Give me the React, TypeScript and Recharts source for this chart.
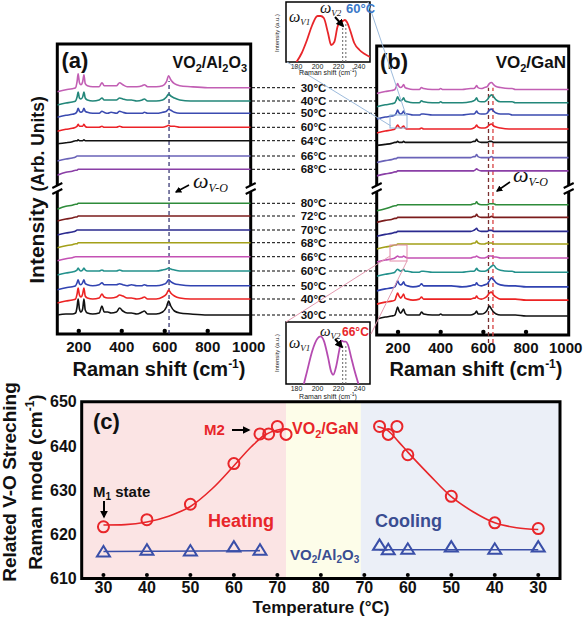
import React from 'react';
import {
  LineChart,
  ComposedChart,
  Line,
  Scatter,
  XAxis,
  YAxis,
  ReferenceArea,
  ReferenceLine,
  ReferenceDot,
} from 'recharts';

const FONT = "Arial, 'Liberation Sans', Helvetica, sans-serif";
const SERIF = "'Liberation Serif', 'Times New Roman', serif";

// ---------------- Panels (a) & (b): Raman spectra ----------------
const RAMAN_TICKS = [200, 400, 600, 800, 1000];

const COOL_TEMPS = ['30°C', '40°C', '50°C', '60°C', '64°C', '66°C', '68°C'];
const HEAT_TEMPS = ['80°C', '72°C', '70°C', '68°C', '66°C', '60°C', '50°C', '40°C', '30°C'];
const COOL_OFFSETS = [246.3, 233, 220.7, 206.7, 193.3, 178, 164.7];
const HEAT_OFFSETS = [130.7, 118, 104, 91.3, 77.3, 63, 48.3, 35, 19];
const COOL_COLORS = ['#c25fb4', '#23877a', '#3b4bb0', '#ec2227', '#111111', '#6a63b8', '#8a3fa6'];
const HEAT_COLORS = ['#2e8b3a', '#7b1c1c', '#2b2a8f', '#a3a019', '#c451b4', '#23918c', '#3143b1', '#ec2323', '#111111'];

// VO2/Al2O3 spectra (intensity above each baseline)
const A_X = [100, 140, 170, 185, 192, 197, 203, 210, 218, 224, 230, 240, 265, 295, 308, 318, 335, 350, 375, 390, 405, 425, 445, 470, 495, 505, 520, 560, 590, 608, 618, 628, 645, 670, 720, 800, 900, 1000];
const A_C30 = [-4, -2, -1, 0, 6, 14, 5, 3, 6, 13, 4, 2, 1, 1, 5, 2, 2, 2, 2, 5, 3, 1, 1, 1, 2, 3, 1, 1, 2, 6, 12, 8, 4, 2, 1, 0, 0, 0];
const A_C40 = [-4, -2, -1, 0, 4, 9, 3, 2, 4, 9, 3, 1, 0, 1, 3, 1, 1, 1, 1, 3, 2, 1, 1, 0, 1, 2, 0, 0, 1, 4, 7, 5, 3, 1, 0, 0, 0, 0];
const A_C50 = [-4, -2, -1, 0, 2, 5, 2, 1, 2, 5, 2, 1, 0, 0, 2, 1, 0, 1, 0, 2, 1, 0, 0, 0, 0, 1, 0, 0, 1, 2, 4, 3, 1, 0, 0, 0, 0, 0];
const A_C60 = [-4, -2, -1, 0, 1, 3, 1, 1, 1, 3, 1, 0, 0, 0, 1, 0, 0, 0, 0, 1, 0, 0, 0, 0, 0, 0, 0, 0, 0, 1, 2, 1, 1, 0, 0, 0, 0, 0];
const A_C64 = [-3, -2, -1, 0, 0, 1, 0, 0, 0, 1, 0, 0, 0, 0, 0, 0, 0, 0, 0, 0, 0, 0, 0, 0, 0, 0, 0, 0, 0, 0, 0, 0, 0, 0, 0, 0, 0, 0];
const A_C66 = [-5, -3, -2, -1, 0, 0, 0, 0, 0, 0, 0, 0, 0, 0, 0, 0, 0, 0, 0, 0, 0, 0, 0, 0, 0, 0, 0, 0, 0, 0, 0, 0, 0, 0, 0, 0, 0, 0];
const A_C68 = [-6, -3, -2, -1, -1, 0, 0, 0, 0, 0, 0, 0, 0, 0, 0, 0, 0, 0, 0, 0, 0, 0, 0, 0, 0, 0, 0, 0, 0, 0, 0, 0, 0, 0, 0, 0, 0, 0];
const A_H80 = [-6, -3, -2, -1, -1, 0, 0, 0, 0, 0, 0, 0, 0, 0, 0, 0, 0, 0, 0, 0, 0, 0, 0, 0, 0, 0, 0, 0, 0, 0, 0, 0, 0, 0, 0, 0, 0, 0];
const A_H72 = [-5, -3, -2, -1, -1, 0, 0, 0, 0, 0, 0, 0, 0, 0, 0, 0, 0, 0, 0, 0, 0, 0, 0, 0, 0, 0, 0, 0, 0, 0, 0, 0, 0, 0, 0, 0, 0, 0];
const A_H70 = [-5, -3, -2, -1, 0, 0, 0, 0, 0, 0, 0, 0, 0, 0, 0, 0, 0, 0, 0, 0, 0, 0, 0, 0, 0, 0, 0, 0, 0, 0, 0, 0, 0, 0, 0, 0, 0, 0];
const A_H68 = [-5, -3, -2, -1, -1, 0, 0, 0, 0, 0, 0, 0, 0, 0, 0, 0, 0, 0, 0, 0, 0, 0, 0, 0, 0, 0, 0, 0, 0, 0, 0, 0, 0, 0, 0, 0, 0, 0];
const A_H66 = [-4, -2, -1, 0, 0, 0, 0, 0, 0, 0, 0, 0, 0, 0, 0, 0, 0, 0, 0, 0, 0, 0, 0, 0, 0, 0, 0, 0, 0, 0, 0, 0, 0, 0, 0, 0, 0, 0];
const A_H60 = [-4, -2, -1, 0, 1, 3, 1, 0, 1, 3, 1, 0, 0, 0, 1, 0, 0, 0, 0, 1, 0, 0, 0, 0, 0, 0, 0, 0, 1, 2, 3, 2, 1, 0, 0, 0, 0, 0];
const A_H50 = [-4, -2, -1, 0, 3, 6, 2, 1, 3, 6, 2, 1, 0, 1, 3, 1, 1, 1, 1, 2, 1, 0, 1, 0, 0, 1, 0, 0, 1, 3, 6, 4, 2, 1, 0, 0, 0, 0];
const A_H40 = [-4, -2, -1, 0, 5, 11, 4, 2, 5, 11, 3, 1, 0, 1, 5, 2, 1, 1, 2, 4, 3, 1, 1, 0, 1, 2, 0, 0, 2, 5, 9, 6, 3, 1, 0, 0, 0, 0];
const A_H30 = [0, 1, 1, 2, 8, 16, 6, 3, 6, 16, 5, 2, 1, 2, 9, 3, 3, 2, 3, 7, 4, 2, 2, 1, 3, 4, 1, 1, 3, 8, 14, 9, 4, 2, 1, 0, 0, 0];
const A_COOL = [A_C30, A_C40, A_C50, A_C60, A_C64, A_C66, A_C68];
const A_HEAT = [A_H80, A_H72, A_H70, A_H68, A_H66, A_H60, A_H50, A_H40, A_H30];

// VO2/GaN spectra
const B_X = [100, 140, 170, 185, 192, 198, 205, 212, 220, 226, 233, 245, 270, 300, 310, 320, 360, 390, 400, 410, 450, 500, 540, 555, 562, 568, 575, 590, 605, 618, 628, 638, 648, 660, 680, 720, 735, 750, 800, 850, 900, 1000];
const B_C30 = [-4, -2, -1, 0, 3, 6, 3, 2, 3, 5, 2, 1, 0, 0, 2, 1, 0, 0, 1, 0, 0, 0, 1, 1, 2, 4, 2, 1, 2, 3, 6, 7, 5, 3, 2, 1, 1, 0, 0, 0, 0, 0];
const B_C40 = [-4, -2, -1, 0, 3, 6, 3, 2, 3, 5, 2, 1, 0, 0, 2, 1, 0, 0, 1, 0, 0, 0, 1, 2, 3, 5, 2, 1, 1, 3, 6, 8, 6, 3, 1, 1, 1, 0, 0, 0, 0, 0];
const B_C50 = [-4, -2, -1, 0, 2, 5, 2, 1, 2, 4, 1, 1, 0, 0, 1, 1, 0, 0, 0, 0, 0, 0, 1, 1, 2, 4, 2, 1, 1, 2, 5, 6, 4, 2, 1, 1, 0, 0, 0, 0, 0, 0];
const B_C60 = [-4, -2, -1, 0, 2, 4, 2, 1, 2, 3, 1, 0, 0, 0, 1, 0, 0, 0, 0, 0, 0, 0, 0, 1, 2, 4, 2, 1, 1, 2, 4, 5, 3, 2, 1, 0, 0, 0, 0, 0, 0, 0];
const B_C64 = [-3, -2, -1, 0, 0, 1, 0, 0, 0, 1, 0, 0, 0, 0, 0, 0, 0, 0, 0, 0, 0, 0, 0, 1, 1, 3, 1, 0, 0, 0, 1, 1, 0, 0, 0, 0, 0, 0, 0, 0, 0, 0];
const B_C66 = [-5, -3, -2, -1, -1, 0, 0, 0, 0, 0, 0, 0, 0, 0, 0, 0, 0, 0, 0, 0, 0, 0, 0, 1, 1, 3, 1, 0, 0, 0, 0, 1, 0, 0, 0, 0, 0, 0, 0, 0, 0, 0];
const B_C68 = [-5, -3, -2, -1, -1, 0, 0, 0, 0, 0, 0, 0, 0, 0, 0, 0, 0, 0, 0, 0, 0, 0, 0, 0, 1, 2, 1, 0, 0, 0, 0, 0, 0, 0, 0, 0, 0, 0, 0, 0, 0, 0];
const B_H80 = [-6, -4, -2, -1, -1, 0, 0, 0, 0, 0, 0, 0, 0, 0, 0, 0, 0, 0, 0, 0, 0, 0, 0, 1, 1, 3, 1, 0, 0, 0, 1, 1, 1, 0, 0, 0, 0, 0, 0, 0, 0, 0];
const B_H72 = [-5, -3, -2, -1, -1, 0, 0, 0, 0, 0, 0, 0, 0, 0, 0, 0, 0, 0, 0, 0, 0, 0, 0, 1, 1, 3, 1, 0, 0, 0, 0, 1, 0, 0, 0, 0, 0, 0, 0, 0, 0, 0];
const B_H70 = [-5, -3, -2, -1, -1, 0, 0, 0, 0, 0, 0, 0, 0, 0, 0, 0, 0, 0, 0, 0, 0, 0, 0, 1, 2, 3, 1, 0, 0, 0, 1, 1, 0, 0, 0, 0, 0, 0, 0, 0, 0, 0];
const B_H68 = [-5, -3, -2, -1, -1, 0, 0, 0, 0, 0, 0, 0, 0, 0, 0, 0, 0, 0, 0, 0, 0, 0, 0, 1, 1, 3, 1, 0, 0, 1, 1, 1, 0, 0, 0, 0, 0, 0, 0, 0, 0, 0];
const B_H66 = [-4, -2, -1, 0, 1, 2, 1, 1, 1, 2, 1, 0, 0, 0, 0, 0, 0, 0, 0, 0, 0, 0, 0, 1, 1, 2, 1, 0, 0, 1, 2, 2, 1, 1, 0, 0, 0, 0, 0, 0, 0, 0];
const B_H60 = [-4, -2, -1, 0, 2, 3, 2, 1, 2, 3, 1, 1, 0, 0, 1, 1, 0, 0, 0, 0, 0, 0, 1, 1, 2, 4, 2, 1, 1, 2, 4, 6, 7, 4, 2, 1, 1, 0, 0, 0, 0, 0];
const B_H50 = [-4, -2, -1, 0, 3, 6, 3, 2, 3, 5, 2, 1, 0, 1, 3, 1, 1, 1, 1, 1, 1, 0, 1, 2, 2, 4, 2, 1, 2, 3, 6, 9, 7, 4, 2, 1, 1, 1, 0, 0, 0, 0];
const B_H40 = [-4, -2, -1, 0, 4, 7, 4, 2, 4, 6, 2, 1, 0, 1, 3, 1, 1, 1, 1, 1, 1, 1, 1, 2, 2, 4, 2, 1, 2, 4, 7, 8, 5, 3, 1, 1, 1, 1, 0, 0, 0, 0];
const B_H30 = [-3, -1, 0, 1, 5, 9, 5, 3, 5, 7, 3, 1, 1, 1, 4, 2, 1, 1, 2, 1, 1, 1, 1, 2, 3, 5, 2, 2, 3, 6, 10, 7, 4, 2, 1, 1, 1, 1, 0, 0, 0, 0];
const B_COOL = [B_C30, B_C40, B_C50, B_C60, B_C64, B_C66, B_C68];
const B_HEAT = [B_H80, B_H72, B_H70, B_H68, B_H66, B_H60, B_H50, B_H40, B_H30];

// Insets (zoom of the omega_V1 / omega_V2 region)
const INSET_TICKS = [180, 200, 220, 240];
const TOP_INSET_X = [180, 185, 190, 195, 200, 203, 206, 210, 213, 216, 219, 222, 224, 226, 228, 231, 235, 240, 245, 250];
const TOP_INSET_Y = [0, 9, 22, 37, 46, 46, 44, 29, 17, 20, 35, 41, 41, 42, 40, 32, 19, 12, 8, 5];
const BOT_INSET_X = [187, 190, 195, 200, 203, 206, 210, 213, 215, 218, 221, 223, 225, 227, 229, 232, 235, 239];
const BOT_INSET_Y = [0, 12, 32, 44, 46, 42, 26, 12, 9, 18, 34, 42, 41, 41, 38, 26, 14, 0];

// ---------------- Panel (c) ----------------
const C_TICKS = [30, 40, 50, 60, 70, 80, 90, 100, 110, 120, 130];
const C_TICK_LABELS = ['30', '40', '50', '60', '70', '80', '70', '60', '50', '40', '30'];
const Y_TICKS = [610, 620, 630, 640, 650];

const HEAT_T = [30, 40, 50, 60, 66, 68, 70, 72];
const GAN_HEAT = [621.7, 623.3, 626.8, 636.0, 642.7, 642.7, 644.4, 642.6];
const COOL_T = [66.5, 64.5, 62.5, 60, 50, 40, 30];
const GAN_COOL = [644.4, 642.6, 644.4, 638.0, 628.6, 622.6, 621.3];
const ALO_HEAT_T = [30, 40, 50, 60, 66];
const ALO_HEAT = [616.0, 616.4, 616.2, 617.1, 616.4];
const ALO_COOL_T = [66.5, 64.5, 60, 50, 40, 30];
const ALO_COOL = [617.5, 616.5, 616.6, 617.1, 616.6, 617.1];
const FIT_HEAT_T = [30, 35, 40, 45, 50, 55, 60, 64, 67, 70, 72];
const FIT_HEAT = [622.1, 622.2, 622.8, 624.1, 626.3, 630.3, 635.5, 639.8, 642.4, 643.6, 643.8];
const FIT_COOL_T = [67, 64.5, 62, 60, 55, 50, 45, 40, 35, 30];
const FIT_COOL = [644.4, 643.4, 640.8, 638.6, 633.4, 628.5, 625.1, 622.6, 621.5, 621.1];
const ALO_FIT_HEAT_T = [30, 66];
const ALO_FIT_HEAT = [616.1, 616.3];
const ALO_FIT_COOL_T = [66.5, 30];
const ALO_FIT_COOL = [616.5, 616.5];

// helpers
const mk = (xs: number[], vals: number[], off = 0) => xs.map((x, i) => ({ x, y: off + vals[i] }));
const heatPos = (t: number) => t; // heating runs left -> right
const coolPos = (t: number) => 160 - t; // cooling runs back, mirrored axis
const pts = (ts: number[], vals: number[], f: (t: number) => number) => ts.map((t, i) => ({ x: f(t), y: vals[i] }));

const makeRamanTick = (lastShift: number) => (p: any) => {
  const v = p.payload.value;
  const dx = v === 1000 ? lastShift : 0;
  return (
    <text x={p.x + dx} y={p.y} dy="0.71em" textAnchor="middle" fontSize={15} fontWeight="bold" fill="#111" fontFamily={FONT}>
      {v}
    </text>
  );
};
const RamanTickA = makeRamanTick(-2);
const RamanTickB = makeRamanTick(-3);

const RedCircle = (p: any) => (
  <circle cx={p.cx} cy={p.cy} r={5.5} fill="none" stroke="#e8262a" strokeWidth={2} />
);
const BlueTri = (p: any) => (
  <polygon
    points={`${p.cx},${p.cy - 6} ${p.cx - 6.5},${p.cy + 4.5} ${p.cx + 6.5},${p.cy + 4.5}`}
    fill="none"
    stroke="#3a4fa8"
    strokeWidth={2}
  />
);
const TempLabel = (p: any) => (
  <text x={p.cx} y={p.cy} dy="0.36em" textAnchor="middle" fontSize={11.5} fontWeight="bold" fill="#111" fontFamily={FONT}>
    {p.payload.label}
  </text>
);

function renderSpectra(xs: number[], cool: number[][], heat: number[][], key: string) {
  const out: any[] = [];
  cool.forEach((v, i) =>
    out.push(
      <Line
        key={`${key}c${i}`}
        data={mk(xs, v, COOL_OFFSETS[i])}
        dataKey="y"
        type="monotone"
        stroke={COOL_COLORS[i]}
        strokeWidth={1.6}
        dot={false}
        isAnimationActive={false}
      />
    )
  );
  heat.forEach((v, i) =>
    out.push(
      <Line
        key={`${key}h${i}`}
        data={mk(xs, v, HEAT_OFFSETS[i])}
        dataKey="y"
        type="monotone"
        stroke={HEAT_COLORS[i]}
        strokeWidth={1.6}
        dot={false}
        isAnimationActive={false}
      />
    )
  );
  return out;
}

const Arrow = ({ x1, y1, x2, y2, w = 1.6 }: any) => (
  <line x1={x1} y1={y1} x2={x2} y2={y2} stroke="#000" strokeWidth={w} markerEnd="url(#ah)" />
);

const BreakMark = ({ x, y }: { x: number; y: number }) => (
  <g>
    <rect x={x - 3} y={y - 3} width={6} height={6} fill="#fff" />
    <line x1={x - 5} y1={y - 1} x2={x + 5} y2={y - 6} stroke="#000" strokeWidth={2} />
    <line x1={x - 5} y1={y + 5} x2={x + 5} y2={y} stroke="#000" strokeWidth={2} />
  </g>
);

export default function App() {
  const allOffsets = [...COOL_OFFSETS, ...HEAT_OFFSETS];
  const labelData = [
    ...COOL_TEMPS.map((label, i) => ({ x: 62.5, y: COOL_OFFSETS[i], label })),
    ...HEAT_TEMPS.map((label, i) => ({ x: 62.5, y: HEAT_OFFSETS[i], label })),
  ];

  return (
    <div style={{ position: 'absolute', left: 0, top: 0, width: 585, height: 618, background: '#fff', fontFamily: FONT, overflow: 'hidden' }}>
      {/* Panel (a) */}
      <div style={{ position: 'absolute', left: 0, top: 0 }}>
        <LineChart width={275} height={380} margin={{ top: 44, right: 24.3, bottom: 16, left: 57.3 }}>
          <XAxis
            type="number"
            dataKey="x"
            domain={[100, 1000]}
            ticks={RAMAN_TICKS}
            allowDataOverflow
            height={30}
            tickLine={false}
            axisLine={false}
            tickSize={0}
            tickMargin={7}
            tick={RamanTickA}
          />
          <YAxis type="number" domain={[0, 290]} hide allowDataOverflow />
          <ReferenceLine segment={[{ x: 620, y: 0 }, { x: 620, y: 253 }]} stroke="#2b2b6b" strokeDasharray="4 3" strokeWidth={1.2} ifOverflow="visible" />
          {renderSpectra(A_X, A_COOL, A_HEAT, 'a')}
          {RAMAN_TICKS.slice(0, 4).map((t) => (
            <ReferenceDot key={`ad${t}`} x={t} y={3} r={2.2} fill="#000" stroke="none" />
          ))}
          <ReferenceArea x1={100} x2={1000} y1={0} y2={290} fill="none" stroke="#000" strokeWidth={3} />
        </LineChart>
      </div>

      {/* temperature labels between panels */}
      <div style={{ position: 'absolute', left: 250.7, top: 0 }}>
        <ComposedChart width={126} height={380} margin={{ top: 44, right: 0, bottom: 16, left: 0 }}>
          <XAxis type="number" dataKey="x" domain={[0, 126]} height={30} tick={false} axisLine={false} tickLine={false} />
          <YAxis type="number" dataKey="y" domain={[0, 290]} hide />
          {allOffsets.map((o, i) => (
            <ReferenceLine key={`l${i}`} segment={[{ x: 1, y: o }, { x: 46, y: o }]} stroke="#000" strokeDasharray="3 2" strokeWidth={1} />
          ))}
          {allOffsets.map((o, i) => (
            <ReferenceLine key={`r${i}`} segment={[{ x: 78, y: o }, { x: 125, y: o }]} stroke="#000" strokeDasharray="3 2" strokeWidth={1} />
          ))}
          <Scatter data={labelData} shape={TempLabel} isAnimationActive={false} />
        </ComposedChart>
      </div>

      {/* Panel (b) */}
      <div style={{ position: 'absolute', left: 367, top: 0 }}>
        <LineChart width={218} height={380} margin={{ top: 46, right: 16.3, bottom: 15, left: 9.7 }}>
          <XAxis
            type="number"
            dataKey="x"
            domain={[100, 1000]}
            ticks={RAMAN_TICKS}
            allowDataOverflow
            height={30}
            tickLine={false}
            axisLine={false}
            tickSize={0}
            tickMargin={7}
            tick={RamanTickB}
          />
          <YAxis type="number" domain={[0, 290]} hide allowDataOverflow />
          <ReferenceLine segment={[{ x: 624, y: -8 }, { x: 624, y: 248 }]} stroke="#7a3030" strokeDasharray="4 3" strokeWidth={1.3} ifOverflow="visible" />
          <ReferenceLine segment={[{ x: 645, y: -8 }, { x: 645, y: 248 }]} stroke="#d84040" strokeDasharray="4 3" strokeWidth={1.3} ifOverflow="visible" />
          {renderSpectra(B_X, B_COOL, B_HEAT, 'b')}
          {RAMAN_TICKS.slice(0, 4).map((t) => (
            <ReferenceDot key={`bd${t}`} x={t} y={3} r={2.2} fill="#000" stroke="none" />
          ))}
          <ReferenceArea x1={100} x2={1000} y1={0} y2={290} fill="none" stroke="#000" strokeWidth={3} />
        </LineChart>
      </div>

      {/* Top inset */}
      <div style={{ position: 'absolute', left: 276, top: 0 }}>
        <LineChart width={100} height={80} margin={{ top: 2, right: 6, bottom: 0, left: 10 }}>
          <XAxis type="number" dataKey="x" domain={[170, 250]} ticks={INSET_TICKS} height={18} tick={{ fontSize: 7, fill: '#222', fontFamily: FONT }} tickLine={false} axisLine={false} tickSize={0} tickMargin={2} allowDataOverflow />
          <YAxis type="number" domain={[0, 60]} hide allowDataOverflow />
          <ReferenceLine segment={[{ x: 224, y: 0 }, { x: 224, y: 38 }]} stroke="#666" strokeDasharray="2 2" />
          <ReferenceLine segment={[{ x: 227, y: 0 }, { x: 227, y: 38 }]} stroke="#666" strokeDasharray="2 2" />
          <Line data={mk(TOP_INSET_X, TOP_INSET_Y)} dataKey="y" type="monotone" stroke="#e8262a" strokeWidth={1.8} dot={false} isAnimationActive={false} />
          <ReferenceArea x1={170} x2={250} y1={0} y2={60} fill="none" stroke="#000" strokeWidth={1.5} />
        </LineChart>
      </div>

      {/* Bottom inset */}
      <div style={{ position: 'absolute', left: 276, top: 320 }}>
        <LineChart width={100} height={84} margin={{ top: 2, right: 6, bottom: 0, left: 10 }}>
          <XAxis type="number" dataKey="x" domain={[170, 250]} ticks={INSET_TICKS} height={20} tick={{ fontSize: 7, fill: '#222', fontFamily: FONT }} tickLine={false} axisLine={false} tickSize={0} tickMargin={2} allowDataOverflow />
          <YAxis type="number" domain={[0, 60]} hide allowDataOverflow />
          <ReferenceLine segment={[{ x: 224, y: 0 }, { x: 224, y: 38 }]} stroke="#666" strokeDasharray="2 2" />
          <ReferenceLine segment={[{ x: 227, y: 0 }, { x: 227, y: 38 }]} stroke="#666" strokeDasharray="2 2" />
          <Line data={mk(BOT_INSET_X, BOT_INSET_Y)} dataKey="y" type="monotone" stroke="#b54bb0" strokeWidth={1.8} dot={false} isAnimationActive={false} />
          <ReferenceArea x1={170} x2={250} y1={0} y2={60} fill="none" stroke="#000" strokeWidth={1.5} />
        </LineChart>
      </div>

      {/* Panel (c) */}
      <div style={{ position: 'absolute', left: 0, top: 380 }}>
        <ComposedChart width={585} height={238} margin={{ top: 21.7, right: 25, bottom: 15.5, left: 21.7 }}>
          <ReferenceArea x1={25} x2={72} y1={610} y2={650} fill="#fbe4e4" fillOpacity={1} stroke="none" />
          <ReferenceArea x1={72} x2={89.2} y1={610} y2={650} fill="#fdfde9" fillOpacity={1} stroke="none" />
          <ReferenceArea x1={89.2} x2={135} y1={610} y2={650} fill="#ebeff7" fillOpacity={1} stroke="none" />
          <XAxis
            type="number"
            dataKey="x"
            domain={[25, 135]}
            ticks={C_TICKS}
            tickFormatter={(v: number) => C_TICK_LABELS[C_TICKS.indexOf(v)]}
            height={24}
            tickLine={false}
            axisLine={false}
            tickSize={0}
            tickMargin={3}
            tick={{ fontSize: 16, fontWeight: 'bold', fill: '#111', fontFamily: FONT }}
            allowDataOverflow
          />
          <YAxis
            type="number"
            dataKey="y"
            domain={[610, 650]}
            ticks={Y_TICKS}
            width={60}
            tickLine={false}
            axisLine={false}
            tickSize={0}
            tickMargin={5}
            tick={{ fontSize: 16, fontWeight: 'bold', fill: '#111', fontFamily: FONT }}
            allowDataOverflow
          />
          <Line data={pts(FIT_HEAT_T, FIT_HEAT, heatPos)} dataKey="y" type="monotone" stroke="#e8262a" strokeWidth={1.6} dot={false} isAnimationActive={false} />
          <Line data={pts(FIT_COOL_T, FIT_COOL, coolPos)} dataKey="y" type="monotone" stroke="#e8262a" strokeWidth={1.6} dot={false} isAnimationActive={false} />
          <Line data={pts(ALO_FIT_HEAT_T, ALO_FIT_HEAT, heatPos)} dataKey="y" type="linear" stroke="#3a4fa8" strokeWidth={1.6} dot={false} isAnimationActive={false} />
          <Line data={pts(ALO_FIT_COOL_T, ALO_FIT_COOL, coolPos)} dataKey="y" type="linear" stroke="#3a4fa8" strokeWidth={1.6} dot={false} isAnimationActive={false} />
          <Scatter data={pts(HEAT_T, GAN_HEAT, heatPos)} shape={RedCircle} isAnimationActive={false} />
          <Scatter data={pts(COOL_T, GAN_COOL, coolPos)} shape={RedCircle} isAnimationActive={false} />
          <Scatter data={pts(ALO_HEAT_T, ALO_HEAT, heatPos)} shape={BlueTri} isAnimationActive={false} />
          <Scatter data={pts(ALO_COOL_T, ALO_COOL, coolPos)} shape={BlueTri} isAnimationActive={false} />
          {C_TICKS.map((t) => (
            <ReferenceDot key={`cd${t}`} x={t} y={610.8} r={2} fill="#000" stroke="none" />
          ))}
          <ReferenceArea x1={25} x2={135} y1={610} y2={650} fill="none" stroke="#000" strokeWidth={3} />
        </ComposedChart>
      </div>

      {/* Annotation overlay */}
      <svg width={585} height={618} style={{ position: 'absolute', left: 0, top: 0, pointerEvents: 'none' }} fontFamily={FONT}>
        <defs>
          <marker id="ah" viewBox="0 0 10 10" refX="8" refY="5" markerWidth="4" markerHeight="4" orient="auto">
            <path d="M0,0 L10,5 L0,10 z" fill="#000" />
          </marker>
        </defs>

        {/* y label (a)/(b) */}
        <text transform="translate(44,190) rotate(-90)" textAnchor="middle" fontWeight="bold" fill="#111">
          <tspan fontSize={21}>Intensity </tspan>
          <tspan fontSize={17.5}>(Arb. Units)</tspan>
        </text>

        {/* titles */}
        <text x={61.5} y={68} fontSize={22} fontWeight="bold" fill="#111">(a)</text>
        <text x={247} y={68} fontSize={16} fontWeight="bold" fill="#111" textAnchor="end">
          VO<tspan fontSize={11} dy={4}>2</tspan>
          <tspan dy={-4}>/Al</tspan>
          <tspan fontSize={11} dy={4}>2</tspan>
          <tspan dy={-4}>O</tspan>
          <tspan fontSize={11} dy={4}>3</tspan>
        </text>
        <text x={380} y={69} fontSize={22} fontWeight="bold" fill="#111">(b)</text>
        <text x={566} y={68} fontSize={17} fontWeight="bold" fill="#111" textAnchor="end">
          VO<tspan fontSize={11} dy={4}>2</tspan>
          <tspan dy={-4}>/GaN</tspan>
        </text>

        {/* x labels */}
        <text x={159} y={376} fontSize={20} fontWeight="bold" fill="#111" textAnchor="middle">
          Raman shift (cm<tspan fontSize={12} dy={-8}>-1</tspan>
          <tspan dy={8}>)</tspan>
        </text>
        <text x={476} y={376} fontSize={20} fontWeight="bold" fill="#111" textAnchor="middle">
          Raman shift (cm<tspan fontSize={12} dy={-8}>-1</tspan>
          <tspan dy={8}>)</tspan>
        </text>

        {/* omega V-O */}
        <text x={193} y={188} fontFamily={SERIF} fontStyle="italic" fill="#111">
          <tspan fontSize={22}>ω</tspan>
          <tspan fontSize={12} dy={4}>V-O</tspan>
        </text>
        <Arrow x1={189} y1={185} x2={176} y2={192} />
        <text x={513} y={182} fontFamily={SERIF} fontStyle="italic" fill="#111">
          <tspan fontSize={22}>ω</tspan>
          <tspan fontSize={12} dy={4}>V-O</tspan>
        </text>
        <Arrow x1={510} y1={182} x2={497} y2={191} />

        {/* axis breaks */}
        <BreakMark x={57.3} y={189} />
        <BreakMark x={250.7} y={189} />
        <BreakMark x={376.7} y={189} />
        <BreakMark x={568.7} y={189} />

        {/* zoom boxes and connectors */}
        <rect x={390} y={115} width={17} height={13} fill="none" stroke="#8fb2da" strokeWidth={1} />
        <line x1={368} y1={2} x2={406} y2={115} stroke="#9dbbdc" strokeWidth={1} />
        <line x1={287} y1={62} x2={391} y2={126} stroke="#9dbbdc" strokeWidth={1} />
        <rect x={390} y={245} width={17} height={16} fill="none" stroke="#e28aa8" strokeWidth={1} />
        <line x1={390} y1={256} x2={286} y2={322} stroke="#e49ab0" strokeWidth={1} />
        <line x1={407} y1={261} x2={371} y2={334} stroke="#e49ab0" strokeWidth={1} />

        {/* top inset texts */}
        <text transform="translate(279,33) rotate(-90)" textAnchor="middle" fontSize={6} fill="#222">Intensity (a.u.)</text>
        <text x={328} y={75} textAnchor="middle" fontSize={7} fill="#222">
          Raman shift (cm<tspan fontSize={5} dy={-3}>-1</tspan>
          <tspan dy={3}>)</tspan>
        </text>
        <text x={289} y={22} fontFamily={SERIF} fontStyle="italic" fill="#111">
          <tspan fontSize={16}>ω</tspan>
          <tspan fontSize={9} dy={3}>V1</tspan>
        </text>
        <text x={320} y={13} fontFamily={SERIF} fontStyle="italic" fill="#111">
          <tspan fontSize={16}>ω</tspan>
          <tspan fontSize={9} dy={3}>V2</tspan>
        </text>
        <text x={346} y={13} fontSize={13} fontWeight="bold" fill="#3a78c8">60°C</text>
        <Arrow x1={335} y1={17} x2={343} y2={26} w={2} />

        {/* bottom inset texts */}
        <text transform="translate(279,353) rotate(-90)" textAnchor="middle" fontSize={6} fill="#222">Intensity (a.u.)</text>
        <text x={328} y={399} textAnchor="middle" fontSize={7} fill="#222">
          Raman shift (cm<tspan fontSize={5} dy={-3}>-1</tspan>
          <tspan dy={3}>)</tspan>
        </text>
        <text x={289} y={348} fontFamily={SERIF} fontStyle="italic" fill="#111">
          <tspan fontSize={16}>ω</tspan>
          <tspan fontSize={9} dy={3}>V1</tspan>
        </text>
        <text x={320} y={336} fontFamily={SERIF} fontStyle="italic" fill="#111">
          <tspan fontSize={15}>ω</tspan>
          <tspan fontSize={9} dy={3}>V2</tspan>
        </text>
        <text x={342} y={336} fontSize={12} fontWeight="bold" fill="#e8262a">66°C</text>
        <Arrow x1={335} y1={339} x2={342} y2={347} w={2} />

        {/* panel (c) texts */}
        <text x={93} y={429} fontSize={22} fontWeight="bold" fill="#111">(c)</text>
        <text x={93} y={497} fontSize={15} fontWeight="bold" fill="#111">
          M<tspan fontSize={10} dy={3}>1</tspan>
          <tspan dy={-3}> state</tspan>
        </text>
        <Arrow x1={104} y1={501} x2={104} y2={517} w={2} />
        <text x={204} y={435} fontSize={15} fontWeight="bold" fill="#e8262a">M2</text>
        <Arrow x1={232} y1={430} x2={249} y2={430} w={2} />
        <text x={292} y={434} fontSize={16} fontWeight="bold" fill="#e8262a">
          VO<tspan fontSize={11} dy={4}>2</tspan>
          <tspan dy={-4}>/GaN</tspan>
        </text>
        <text x={208} y={527} fontSize={18} fontWeight="bold" fill="#e8262a">Heating</text>
        <text x={375} y={527} fontSize={18} fontWeight="bold" fill="#3a4d92">Cooling</text>
        <text x={290} y={560} fontSize={15} fontWeight="bold" fill="#3a4d92">
          VO<tspan fontSize={10} dy={3}>2</tspan>
          <tspan dy={-3}>/Al</tspan>
          <tspan fontSize={10} dy={3}>2</tspan>
          <tspan dy={-3}>O</tspan>
          <tspan fontSize={10} dy={3}>3</tspan>
        </text>
        <text x={321} y={613} fontSize={17} fontWeight="bold" fill="#111" textAnchor="middle">Temperature (°C)</text>
        <text transform="translate(16,482) rotate(-90)" textAnchor="middle" fontSize={19} fontWeight="bold" fill="#111">
          Related V-O Streching
        </text>
        <text transform="translate(42,482) rotate(-90)" textAnchor="middle" fontSize={19} fontWeight="bold" fill="#111">
          Raman mode (cm<tspan fontSize={12} dy={-8}>-1</tspan>
          <tspan dy={8}>)</tspan>
        </text>
      </svg>
    </div>
  );
}
